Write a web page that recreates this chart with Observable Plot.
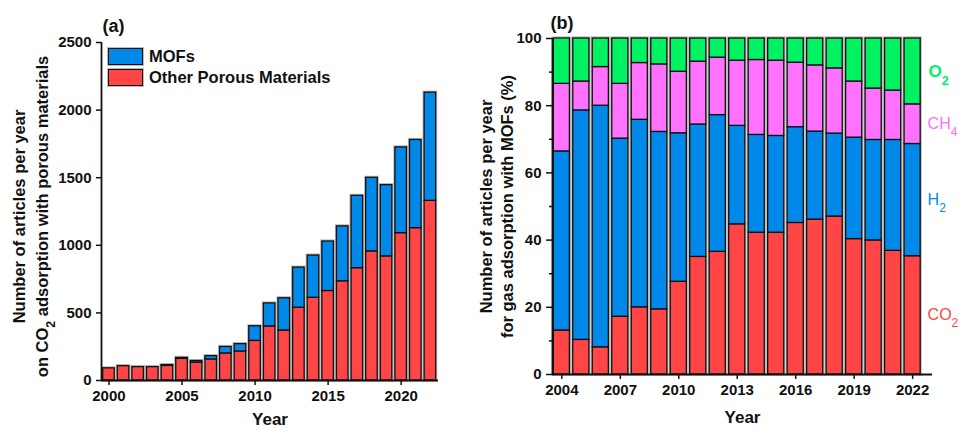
<!DOCTYPE html>
<html><head><meta charset="utf-8">
<script src="https://cdn.jsdelivr.net/npm/d3@7"></script>
<script src="https://cdn.jsdelivr.net/npm/@observablehq/plot@0.6"></script>
<style>
body{margin:0;background:#fff;font-family:"Liberation Sans",Arial,sans-serif;}
#wrap{position:relative;width:959px;height:428px;display:flex;overflow:hidden;}
#wrap svg{overflow:visible;}
.legend{position:absolute;left:108px;top:46px;font-weight:bold;font-size:16.5px;color:#111;}
.item{display:flex;align-items:center;height:21px;}
.sw{width:33px;height:15px;border:1.6px solid #111;margin-right:6px;box-shadow:0 0 0 1px #bbb;}
</style></head><body><div id="wrap"></div><script>
// ---------- Panel (a) data ----------
const yearsA = [2000,2001,2002,2003,2004,2005,2006,2007,2008,2009,2010,2011,2012,2013,2014,2015,2016,2017,2018,2019,2020,2021,2022];
const otherA = [90,106,99,99,108,160,132,156,200,215,293,400,370,538,612,662,734,831,955,918,1090,1127,1329];
const mofsA  = [0,0,0,0,6,7,12,24,48,54,108,170,238,297,312,366,406,535,544,527,634,652,800];
const seriesA = ["MOFs","Other Porous Materials"];
const ticksAx = [2000,2005,2010,2015,2020];
const ticksAy = [0,500,1000,1500,2000,2500];

// ---------- Panel (b) data (percent) ----------
const yearsB = [2004,2005,2006,2007,2008,2009,2010,2011,2012,2013,2014,2015,2016,2017,2018,2019,2020,2021,2022];
const co2B = [13.1,10.3,8.1,17.2,20.0,19.4,27.6,35.0,36.5,44.7,42.2,42.2,45.1,46.1,47.0,40.3,39.9,36.8,35.2];
const h2B  = [53.3,68.3,71.9,53.0,55.8,52.8,44.2,39.4,40.7,29.3,29.1,28.8,28.5,26.2,24.7,30.2,29.9,33.0,33.4];
const ch4B = [20.1,8.6,11.5,16.3,16.9,20.1,18.3,18.7,17.1,19.4,22.3,22.4,19.2,19.7,19.4,16.7,15.3,14.7,11.8];
const o2B  = [13.5,12.8,8.5,13.5,7.3,7.7,9.9,6.9,5.7,6.6,6.4,6.6,7.2,8.0,8.9,12.8,14.9,15.5,19.6];
const gasNames = ["CO₂","H₂","CH₄","O₂"];
const ticksBx = [2004,2007,2010,2013,2016,2019,2022];
const ticksBy = [0,20,40,60,80,100];
const minorBy = [10,30,50,70,90];

const RED="#ff4545", BLUE="#0089e8", MAG="#ff71ff", GRN="#00f162", INK="#111";
const font = "'Liberation Sans', Arial, sans-serif";

// ---------- build rows ----------
const rowsA = [], totA = [];
yearsA.forEach((yr,i)=>{
  rowsA.push({year:yr, series:"Other Porous Materials", y1:0, y2:otherA[i]});
  if (mofsA[i] > 0) rowsA.push({year:yr, series:"MOFs", y1:otherA[i], y2:otherA[i]+mofsA[i]});
  totA.push({year:yr, y1:0, y2:otherA[i]+mofsA[i]});
});
const rowsB = [];
const lastB = [];
yearsB.forEach((yr,i)=>{
  let acc = 0;
  [co2B[i],h2B[i],ch4B[i],o2B[i]].forEach((v,k)=>{
    const r = {year:yr, series:gasNames[k], y1:acc, y2:acc+v, mid:acc+v/2};
    rowsB.push(r);
    if (i === yearsB.length-1) lastB.push(r);
    acc += v;
  });
});

const hwA = 0.395, hwB = 0.413;

const plotA = Plot.plot({
  width: 470, height: 428,
  marginLeft: 101, marginRight: 32, marginTop: 42, marginBottom: 48,
  x: {type:"linear", domain:[1999.49, 2022.555], label:null},
  y: {domain:[0,2500], label:null},
  color: {domain: seriesA, range:[BLUE, RED]},
  style: {fontFamily: font, fontSize:"15px", fontWeight:"bold", color:INK, background:"white", overflow:"visible"},
  marks: [
    Plot.rect(totA, {x1:d=>d.year-hwA, x2:d=>d.year+hwA, y1:"y1", y2:"y2", stroke:"#b8b8b8", strokeWidth:3.2, fill:"none"}),
    Plot.rect(rowsA, {x1:d=>d.year-hwA, x2:d=>d.year+hwA, y1:"y1", y2:"y2", fill:"series", stroke:INK, strokeWidth:1.3}),
    Plot.ruleY([0], {stroke:INK, strokeWidth:1.8}),
    Plot.ruleX([1999.49], {stroke:INK, strokeWidth:1.8}),
    Plot.axisX({ticks:ticksAx, tickFormat:"d", tickSize:5, tickPadding:5, strokeWidth:1.5, label:null}),
    Plot.axisY({ticks:ticksAy, tickFormat:"d", tickSize:5, tickPadding:5, strokeWidth:1.5, label:null}),
    Plot.text(["Year"], {frameAnchor:"bottom", lineAnchor:"middle", dy:39, fontSize:17, fontWeight:"bold"}),
    Plot.text(["(a)"], {frameAnchor:"top-left", textAnchor:"start", lineAnchor:"middle", dx:1, dy:-16, fontSize:18, fontWeight:"bold"}),
    Plot.text(["Number of articles per year\non CO₂ adsorption with porous materials"],
      {frameAnchor:"left", textAnchor:"middle", lineAnchor:"middle", rotate:-90, dx:-72, dy:5, fontSize:16.5, fontWeight:"bold", lineHeight:1.39})
  ]
});

const plotB = Plot.plot({
  width: 489, height: 428,
  marginLeft: 82, marginRight: 27, marginTop: 38, marginBottom: 54,
  x: {type:"linear", domain:[2003.52, 2023.02], label:null},
  y: {domain:[0,100], label:null},
  color: {domain: gasNames, range:[RED, BLUE, MAG, GRN]},
  style: {fontFamily: font, fontSize:"15px", fontWeight:"bold", color:INK, background:"white", overflow:"visible"},
  marks: [
    Plot.rect(rowsB.filter(d=>d.series==="O₂"), {x1:d=>d.year-hwB, x2:d=>d.year+hwB, y1:0, y2:"y2", stroke:"#b8b8b8", strokeWidth:3.2, fill:"none"}),
    Plot.rect(rowsB, {x1:d=>d.year-hwB, x2:d=>d.year+hwB, y1:"y1", y2:"y2", fill:"series", stroke:INK, strokeWidth:1.3}),
    Plot.ruleY([0], {stroke:INK, strokeWidth:1.8}),
    Plot.ruleX([2003.52], {stroke:INK, strokeWidth:1.8}),
    Plot.axisX({ticks:ticksBx, tickFormat:"d", tickSize:5, tickPadding:5, strokeWidth:1.5, label:null}),
    Plot.axisY({ticks:ticksBy, tickFormat:"d", tickSize:6, tickPadding:5, strokeWidth:1.5, label:null}),
    Plot.axisY({ticks:minorBy, tickFormat:()=>"", tickSize:3, strokeWidth:1.5, label:null}),
    Plot.text(lastB.filter(d=>d.series==="O₂"), {x:"year", y:"mid", text:"series", fill:"series", dx:16, textAnchor:"start", fontSize:17, fontWeight:"bold"}),
    Plot.text(lastB.filter(d=>d.series!=="O₂"), {x:"year", y:"mid", text:"series", fill:"series", dx:15, textAnchor:"start", fontSize:16, fontWeight:"normal"}),
    Plot.text(["Year"], {frameAnchor:"bottom", lineAnchor:"middle", dy:43, fontSize:17, fontWeight:"bold"}),
    Plot.text(["(b)"], {frameAnchor:"top-left", textAnchor:"start", lineAnchor:"middle", dx:-2, dy:-15, fontSize:18, fontWeight:"bold"}),
    Plot.text(["Number of articles per year\nfor gas adsorption with MOFs (%)"],
      {frameAnchor:"left", textAnchor:"middle", lineAnchor:"middle", rotate:-90, dx:-57, dy:0, fontSize:16.5, fontWeight:"bold", lineHeight:1.3})
  ]
});

const wrap = document.getElementById("wrap");
wrap.appendChild(plotA);
wrap.appendChild(plotB);

// render Unicode subscript digits as real subscript tspans (text stays text)
const SUB = {"₂":"2","₄":"4"};
function subscriptify(svg){
  const walker = document.createTreeWalker(svg, NodeFilter.SHOW_TEXT);
  const nodes = [];
  while (walker.nextNode()) if (/[₂₄]/.test(walker.currentNode.nodeValue)) nodes.push(walker.currentNode);
  nodes.forEach(n=>{
    const parts = n.nodeValue.split(/([₂₄])/);
    const frag = document.createDocumentFragment();
    parts.forEach(p=>{
      if (!p) return;
      if (SUB[p]) {
        const t = document.createElementNS("http://www.w3.org/2000/svg","tspan");
        t.setAttribute("baseline-shift","sub");
        t.setAttribute("font-size","75%");
        t.textContent = SUB[p];
        frag.appendChild(t);
      } else frag.appendChild(document.createTextNode(p));
    });
    n.parentNode.replaceChild(frag, n);
  });
}
subscriptify(plotA); subscriptify(plotB);

// legend for panel (a)
const lg = document.createElement("div");
lg.className = "legend";
seriesA.forEach(s=>{
  const it = document.createElement("div"); it.className="item";
  const sw = document.createElement("div"); sw.className="sw";
  sw.style.background = s==="MOFs" ? BLUE : RED;
  const tx = document.createElement("span"); tx.textContent = s;
  it.appendChild(sw); it.appendChild(tx); lg.appendChild(it);
});
wrap.appendChild(lg);
</script></body></html>
